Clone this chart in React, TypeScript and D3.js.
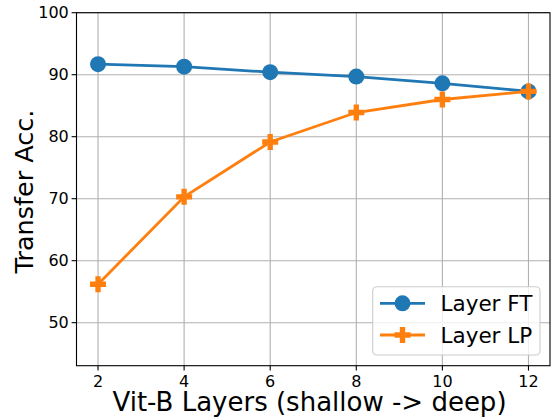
import React from "react";
import * as d3 from "d3";

const layers = [2, 4, 6, 8, 10, 12];
const layerFT = [91.7, 91.3, 90.4, 89.7, 88.6, 87.3];
const layerLP = [56.2, 70.3, 79.15, 83.9, 86.0, 87.3];
const xTicks = [2, 4, 6, 8, 10, 12];
const yTicks = [50, 60, 70, 80, 90, 100];
const seriesNames = ["Layer FT", "Layer LP"];
const colors = ["#1f77b4", "#ff7f0e"];

const W = 551, H = 420;
const left = 76.5, right = 550, top = 12.7, bottom = 365.7;
const font = "DejaVu Sans, sans-serif";

function plusPath(cx: number, cy: number, s: number) {
  const a = s / 2, b = s / 6;
  return `M${cx - b},${cy - a}H${cx + b}V${cy - b}H${cx + a}V${cy + b}H${cx + b}V${cy + a}H${cx - b}V${cy + b}H${cx - a}V${cy - b}H${cx - b}Z`;
}

export default function App() {
  const x = d3.scaleLinear().domain([1.5, 12.5]).range([left, right]);
  const y = d3.scaleLinear().domain([43.06, 100]).range([bottom, top]);
  const line = d3.line<number>().x((_, i) => x(layers[i])).y((d) => y(d));
  const legX = 372.7, legY = 286.7, legW = 167.3, legH = 68.3;
  const legRows = [303.3, 335];
  return (
    <svg width={W} height={H} style={{ position: "absolute", left: 0, top: 0, background: "#fff" }}>
      <g>
        {xTicks.map((t) => (
          <line key={"gx" + t} x1={x(t)} x2={x(t)} y1={top} y2={bottom} stroke="#b0b0b0" strokeWidth={1.1} />
        ))}
        {yTicks.map((t) => (
          <line key={"gy" + t} x1={left} x2={right} y1={y(t)} y2={y(t)} stroke="#b0b0b0" strokeWidth={1.1} />
        ))}
      </g>
      <path d={line(layerFT) || ""} fill="none" stroke={colors[0]} strokeWidth={2.8} />
      {layerFT.map((v, i) => (
        <circle key={"ft" + i} cx={x(layers[i])} cy={y(v)} r={8} fill={colors[0]} />
      ))}
      <path d={line(layerLP) || ""} fill="none" stroke={colors[1]} strokeWidth={2.8} />
      {layerLP.map((v, i) => (
        <path key={"lp" + i} d={plusPath(x(layers[i]), y(v), 16)} fill={colors[1]} />
      ))}
      <rect x={left} y={top} width={right - left} height={bottom - top} fill="none" stroke="#000" strokeWidth={1.1} />
      {xTicks.map((t) => (
        <g key={"tx" + t}>
          <line x1={x(t)} x2={x(t)} y1={bottom} y2={bottom + 4.9} stroke="#000" strokeWidth={1.1} />
          <text x={x(t)} y={386.7} textAnchor="middle" fontFamily={font} fontSize={16} fill="#000">{t}</text>
        </g>
      ))}
      {yTicks.map((t) => (
        <g key={"ty" + t}>
          <line x1={left - 4.9} x2={left} y1={y(t)} y2={y(t)} stroke="#000" strokeWidth={1.1} />
          <text x={left - 7.7} y={y(t)} dy="0.36em" textAnchor="end" fontFamily={font} fontSize={16} fill="#000">{t}</text>
        </g>
      ))}
      <text x={309.5} y={410.5} textAnchor="middle" fontFamily={font} fontSize={26} fill="#000">Vit-B Layers (shallow -&gt; deep)</text>
      <text transform={`translate(32.5,191.5) rotate(-90)`} textAnchor="middle" fontFamily={font} fontSize={25.5} fill="#000">Transfer Acc.</text>
      <rect x={legX} y={legY} width={legW} height={legH} rx={4} fill="#fff" fillOpacity={0.8} stroke="#cccccc" strokeWidth={1.1} />
      {seriesNames.map((n, i) => (
        <g key={n}>
          <line x1={380} x2={425} y1={legRows[i]} y2={legRows[i]} stroke={colors[i]} strokeWidth={2.8} />
          {i === 0 ? (
            <circle cx={402.5} cy={legRows[i]} r={8} fill={colors[i]} />
          ) : (
            <path d={plusPath(402.5, legRows[i], 16)} fill={colors[i]} />
          )}
          <text x={440.5} y={legRows[i]} dy="0.36em" fontFamily={font} fontSize={21.5} fill="#000">{n}</text>
        </g>
      ))}
    </svg>
  );
}
